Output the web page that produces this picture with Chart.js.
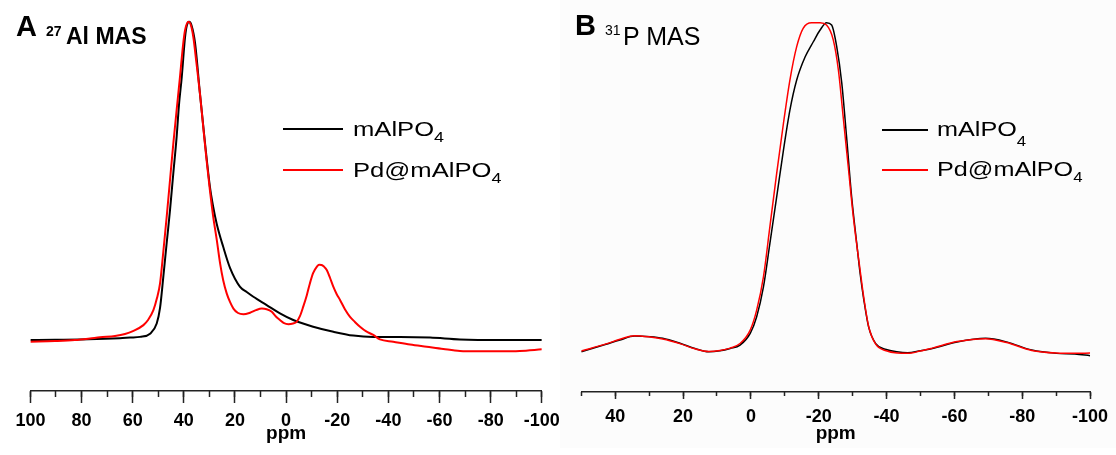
<!DOCTYPE html>
<html>
<head>
<meta charset="utf-8">
<title>27Al and 31P MAS NMR</title>
<script src="https://cdn.jsdelivr.net/npm/chart.js"></script>
<style>
	body { margin: 0; background: #fff; }
	#wrap { position: relative; width: 1116px; height: 455px; overflow: hidden; font-family: 'Liberation Sans', Arial, sans-serif; color: #000; }
	#bgB { position: absolute; left: 560px; top: 0; width: 556px; height: 448px; background: #fcfcfc; }
	canvas { position: absolute; top: 0; }
	#alChart { left: 0; }
	#pChart { left: 560px; }
	.txt { position: absolute; white-space: nowrap; line-height: 1; }
	.leg-line { position: absolute; }
	.leg-text { position: absolute; white-space: nowrap; line-height: 1; transform-origin: 0 0; }
	.leg-text span { position: relative; }
</style>
</head>
<body>
<div id="wrap">
	<div id="bgB"></div>
	<canvas id="alChart" width="580" height="455"></canvas>
	<canvas id="pChart" width="556" height="455"></canvas>

	<span class="txt" style="left:16px; top:12px; font-size:29px; font-weight:bold;">A</span>
	<span class="txt" style="left:46px; top:24px; font-size:14px; font-weight:bold;">27</span>
	<span class="txt" style="left:66px; top:24.5px; font-size:23px; font-weight:bold;">Al MAS</span>

	<span class="txt" style="left:575px; top:11px; font-size:29px; font-weight:bold;">B</span>
	<span class="txt" style="left:605px; top:23px; font-size:14px;">31</span>
	<span class="txt" style="left:623px; top:24px; font-size:25px;">P MAS</span>

	<div id="legendA"></div>
	<div id="legendB"></div>
</div>

<script>

	// Series names and colours (shared by both panels)
	const seriesNames = ['mAlPO4', 'Pd@mAlPO4'];
	const seriesColors = ['#000000', '#ff0000'];

	// Panel A: 27Al MAS, chemical shift (ppm) and normalised intensity
	const alPpmBlack = [100, 90.4, 80.6, 70.8, 65.0, 61.0, 57.1, 53.2, 50.6, 49.3, 48.0, 46.7, 45.4, 44.1, 42.8, 41.9, 40.8, 39.5, 38.8, 37.9, 37.0, 35.6, 33.7, 31.7, 29.8, 28.5, 27.1, 24.6, 21.9, 18.0, 15.4, 12.8, 7.6, 2.4, -2.8, -10.6, -18.5, -26.3, -34.1, -44.5, -56.3, -68.0, -83.6, -100];
	const alBlack = [0, 0.1, 0.2, 0.4, 0.6, 0.8, 1.0, 2.0, 5.2, 10.1, 20.0, 30.5, 40.8, 52.5, 63.9, 73.8, 82.7, 95.3, 98.9, 100, 98.9, 93.3, 77.5, 61.8, 48.2, 41.8, 36.4, 29.3, 22.6, 16.7, 15.1, 13.6, 11.0, 8.4, 6.3, 4.2, 2.6, 1.4, 1.0, 1.0, 0.8, 0.2, 0, 0];

	const alPpmRed = [100, 90.4, 82.6, 76.7, 72.8, 66.9, 63.0, 59.9, 55.8, 54.0, 51.9, 50.5, 49.3, 48.0, 46.7, 45.4, 44.1, 42.8, 41.5, 40.3, 39.5, 38.2, 37.4, 36.3, 35.1, 33.7, 32.4, 31.1, 29.8, 28.5, 27.1, 25.8, 24.6, 23.2, 21.9, 20.6, 18.8, 16.7, 14.1, 11.8, 9.5, 7.6, 5.6, 4.0, 2.4, 0.8, -0.9, -2.7, -4.1, -5.4, -6.7, -8.1, -9.3, -10.6, -12.0, -12.9, -13.9, -14.8, -15.9, -17.2, -18.5, -19.8, -21.1, -23.0, -25.0, -26.9, -28.9, -31.2, -34.1, -36.7, -41.9, -48.5, -55.0, -61.5, -68.0, -74.5, -83.6, -91.4, -100];
	const alRed = [-0.5, -0.3, 0, 0.5, 0.9, 1.3, 1.9, 2.8, 4.7, 6.3, 9.4, 13.2, 17.8, 27.9, 38.7, 50.3, 61.8, 72.3, 82.7, 92.7, 97.4, 100, 99.3, 95.3, 87.3, 77.5, 66.9, 56.5, 47.1, 38.7, 31.4, 24.0, 18.8, 14.6, 11.9, 9.9, 8.5, 8.1, 8.6, 9.4, 9.9, 9.7, 8.9, 7.4, 6.3, 5.3, 5.0, 5.2, 5.7, 7.5, 10.5, 14.1, 17.8, 21.1, 23.0, 23.7, 23.6, 23.1, 22.0, 19.5, 16.7, 14.4, 12.6, 9.7, 7.3, 5.7, 4.2, 2.8, 1.6, 0.2, -0.5, -1.4, -2.1, -2.8, -3.4, -3.5, -3.5, -3.4, -2.9];

	// Panel B: 31P MAS
	const pPpmBlack = [50, 42.7, 38.6, 34.3, 29.7, 26.0, 20.7, 16.5, 12.4, 9.1, 6.1, 3.2, 0.2, -1.7, -3.7, -5.6, -7.6, -9.6, -11.5, -13.5, -16.0, -18.4, -20.4, -22.3, -23.8, -25.3, -26.8, -28.2, -29.7, -31.2, -32.2, -33.3, -34.7, -36.8, -39.9, -43.0, -46.2, -49.9, -53.5, -60.8, -69.2, -75.4, -82.8, -90.1, -95.5, -100];
	const pBlack = [-0.5, 1.8, 3.1, 4.3, 4.1, 3.6, 2.0, 0.5, -0.5, -0.2, 0.5, 1.5, 5.1, 10.2, 19.3, 32.6, 46.8, 61.1, 73.3, 82.5, 89.6, 94.2, 97.8, 100, 99.3, 92.7, 81.5, 65.2, 46.8, 32.6, 23.4, 15.3, 7.1, 2.0, 0.2, -0.5, -0.8, -0.2, 0.5, 2.5, 3.6, 2.5, 0, -1.0, -1.2, -1.7];

	const pPpmRed = [50, 42.7, 38.6, 34.3, 29.7, 26.0, 20.7, 16.5, 12.4, 9.1, 6.1, 3.2, 0.2, -1.7, -3.7, -5.6, -7.6, -9.6, -11.5, -13.5, -15.4, -17.9, -20.4, -22.3, -24.3, -25.8, -27.2, -28.7, -30.2, -32.2, -33.3, -34.7, -36.8, -39.9, -43.1, -46.2, -49.9, -53.5, -60.8, -69.2, -75.4, -82.8, -90.1, -95.5, -100];
	const pRed = [-0.3, 1.9, 3.3, 4.4, 4.0, 3.4, 1.9, 0.4, -0.4, -0.1, 0.6, 2.0, 6.1, 12.2, 22.4, 37.7, 54.0, 69.3, 82.5, 92.7, 98.3, 100, 100, 99.3, 94.7, 85.5, 71.3, 56.0, 40.7, 24.4, 15.9, 7.3, 1.8, -0.2, -0.9, -1.0, -0.3, 0.6, 2.6, 3.5, 2.3, -0.1, -0.9, -1.0, -0.9];


	const tickFont = { family: "'Liberation Sans', Arial, sans-serif", weight: 'bold', size: 18 };
	const titleFont = { family: "'Liberation Sans', Arial, sans-serif", weight: 'bold', size: 19 };

	function makePanel(canvasId, series, cfg) {
		const datasets = series.map((s, k) => ({
			label: seriesNames[k],
			data: s.ppm.map((p, i) => ({ x: p, y: s.val[i] })),
			borderColor: seriesColors[k],
			borderWidth: cfg.lineWidth,
			pointRadius: 0,
			cubicInterpolationMode: 'monotone',
			fill: false,
			order: k === 0 ? 1 : 0
		}));

		return new Chart(document.getElementById(canvasId), {
			type: 'line',
			data: { datasets: datasets },
			options: {
				responsive: false,
				animation: false,
				events: [],
				layout: { padding: { left: cfg.padLeft, right: cfg.padRight, top: 10, bottom: 0 } },
				plugins: { legend: { display: false }, tooltip: { enabled: false } },
				scales: {
					x: {
						type: 'linear', position: 'bottom', weight: 1,
						min: cfg.xMin, max: cfg.xMax, reverse: true,
						ticks: { stepSize: 20, includeBounds: false, autoSkip: false, maxRotation: 0,
							color: '#000', font: tickFont, padding: 7 },
						grid: { drawOnChartArea: false, tickLength: cfg.majorTick, tickColor: '#222', tickWidth: 1.5 },
						border: { display: true, color: '#222', width: 1.5 },
						title: { display: true, text: 'ppm', color: '#000', font: titleFont, padding: { top: 0, bottom: 10 } },
						afterFit: (scale) => { scale.height = cfg.axisHeight; }
					},
					xm: {
						type: 'linear', position: 'bottom', weight: 0,
						min: cfg.xMin, max: cfg.xMax, reverse: true,
						ticks: { stepSize: 10, display: false, maxTicksLimit: 100 },
						grid: { drawOnChartArea: false, tickLength: cfg.minorTick, tickColor: '#222', tickWidth: 1.5 },
						border: { display: false },
						afterFit: (scale) => { scale.height = 0; }
					},
					y: { display: false, min: cfg.yMin, max: cfg.yMax }
				}
			}
		});
	}

	makePanel('alChart',
		[ { ppm: alPpmBlack, val: alBlack }, { ppm: alPpmRed, val: alRed } ],
		{ xMin: -100, xMax: 100, yMin: -16.0, yMax: 103.7, padLeft: 30.4, padRight: 38.2,
		  axisHeight: 64, majorTick: 12, minorTick: 6, lineWidth: 2 });

	makePanel('pChart',
		[ { ppm: pPpmBlack, val: pBlack }, { ppm: pPpmRed, val: pRed } ],
		{ xMin: -100, xMax: 50, yMin: -12.8, yMax: 103.9, padLeft: 21.3, padRight: 25.9,
		  axisHeight: 63, majorTick: 7, minorTick: 4, lineWidth: 1.5 });


	// HTML legends (subscript 4 in the sample names)
	function buildLegend(id, spec) {
		const box = document.getElementById(id);
		seriesNames.forEach((name, k) => {
			const y = spec.rows[k];
			const line = document.createElement('div');
			line.className = 'leg-line';
			line.style.cssText = `left:${spec.lineX}px; width:${spec.lineW}px; top:${y - spec.lineH / 2}px; height:${spec.lineH}px; background:${seriesColors[k]};`;
			box.appendChild(line);

			const t = document.createElement('div');
			t.className = 'leg-text';
			t.style.cssText = `left:${spec.textX}px; top:${y + spec.textDy}px; font-size:${spec.size}px; transform:scaleX(${spec.stretch});`;
			const base = name.slice(0, -1);
			const sub = name.slice(-1);
			t.innerHTML = `${base}<span style="font-size:${spec.subSize}px; top:${spec.subDy[k]}px;">${sub}</span>`;
			box.appendChild(t);
		});
	}

	buildLegend('legendA', { rows: [129.3, 170], lineX: 283, lineW: 60, lineH: 2, textX: 353, textDy: -10.5,
		size: 20, subSize: 14, subDy: [6, 6], stretch: 1.28 });
	buildLegend('legendB', { rows: [130, 170], lineX: 882, lineW: 46, lineH: 1.5, textX: 937, textDy: -12,
		size: 21, subSize: 14, subDy: [10, 6], stretch: 1.2 });

</script>
</body>
</html>
